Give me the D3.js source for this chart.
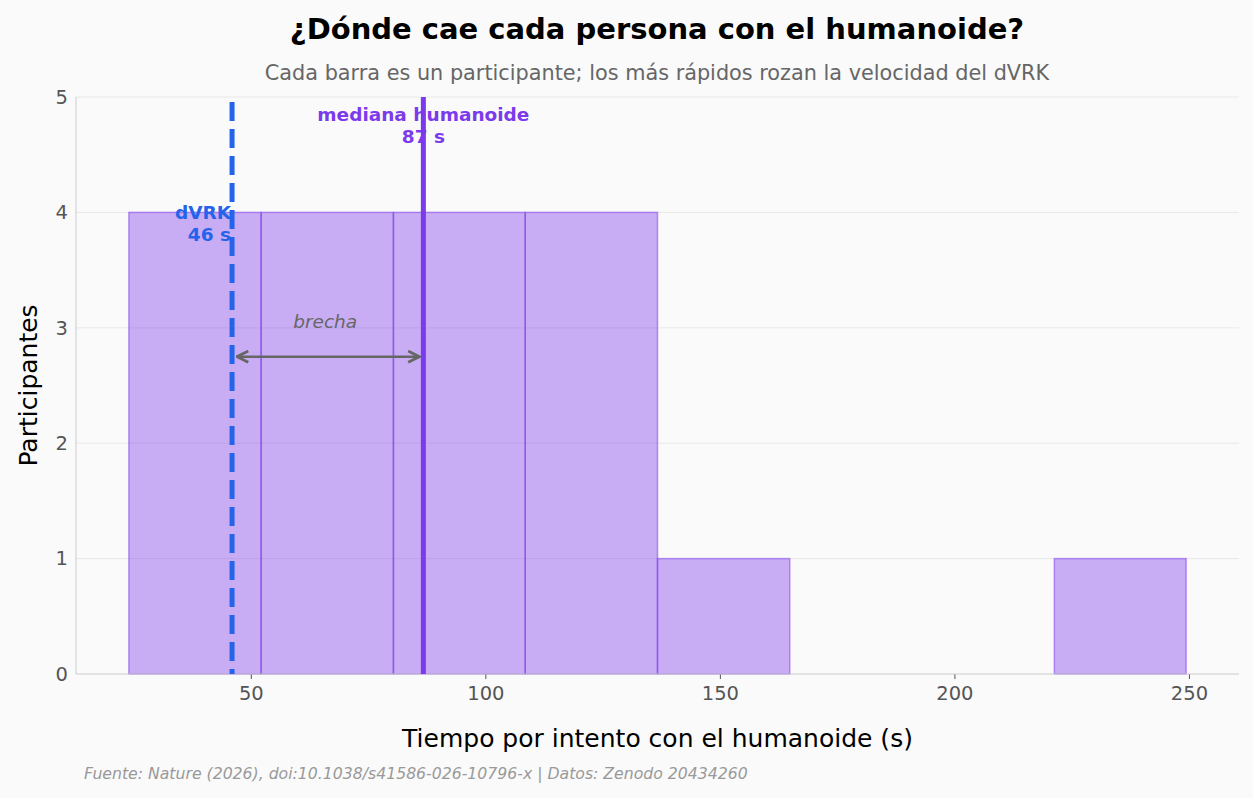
<!DOCTYPE html>
<html>
<head>
<meta charset="utf-8">
<script src="https://cdn.jsdelivr.net/npm/d3@7"></script>
<style>
  body { margin: 0; background: #fafafa; }
  svg { font-family: "DejaVu Sans", sans-serif; }
</style>
</head>
<body>
<svg id="chart" width="1253" height="798"></svg>
<script>
// histogram of time per attempt with the humanoid (one participant per count)
var binEdges = [24.0, 52.2, 80.4, 108.5, 136.7, 164.9, 193.1, 221.3, 249.4];
var binCounts = [4, 4, 4, 4, 1, 0, 0, 1];
var xTicks = [50, 100, 150, 200, 250];
var yTicks = [0, 1, 2, 3, 4, 5];
var dvrkTime = 46;
var medianTime = 87;
var gapArrowY = 2.75;

var svg = d3.select("#chart");
var W = 1253, H = 798;
var m = { left: 76, right: 1239, top: 97, bottom: 674 };

svg.append("rect").attr("width", W).attr("height", H).attr("fill", "#fafafa");

var pad = (binEdges[binEdges.length - 1] - binEdges[0]) * 0.05;
var x = d3.scaleLinear()
	.domain([binEdges[0] - pad, binEdges[binEdges.length - 1] + pad])
	.range([m.left, m.right]);
var y = d3.scaleLinear().domain([0, 5]).range([m.bottom, m.top]);

// grid
svg.append("g").selectAll("line").data(yTicks.slice(1)).enter().append("line")
	.attr("x1", m.left).attr("x2", m.right)
	.attr("y1", function(d) { return y(d); }).attr("y2", function(d) { return y(d); })
	.attr("stroke", "#e8e8e8").attr("stroke-width", 1);

// bars
var bins = binCounts.map(function(c, i) { return { x0: binEdges[i], x1: binEdges[i + 1], n: c }; });
svg.append("g").selectAll("rect").data(bins).enter().append("rect")
	.attr("x", function(d) { return x(d.x0); })
	.attr("y", function(d) { return y(d.n); })
	.attr("width", function(d) { return x(d.x1) - x(d.x0); })
	.attr("height", function(d) { return y(0) - y(d.n); })
	.attr("fill", "rgba(124,58,237,0.4)")
	.attr("stroke", "rgba(124,58,237,0.5)")
	.attr("stroke-width", 1.5);

// axes
var xAxis = d3.axisBottom(x).tickValues(xTicks).tickSize(5).tickPadding(7);
var gx = svg.append("g").attr("transform", "translate(0," + m.bottom + ")").call(xAxis);
gx.select(".domain").remove();
gx.append("line").attr("x1", m.left).attr("x2", m.right).attr("stroke", "#cccccc");
gx.selectAll(".tick line").attr("stroke", "#555");
gx.selectAll(".tick text").attr("fill", "#555").style("font-size", "19.5px").style("font-family", "DejaVu Sans");

var yAxis = d3.axisLeft(y).tickValues(yTicks).tickFormat(d3.format("d")).tickSize(0).tickPadding(8);
var gy = svg.append("g").attr("transform", "translate(" + m.left + ",0)").call(yAxis);
gy.select(".domain").remove();
gy.append("line").attr("y1", m.top).attr("y2", m.bottom).attr("stroke", "#cccccc");
gy.selectAll(".tick text").attr("fill", "#555").style("font-size", "19.5px").style("font-family", "DejaVu Sans");

// median label sits under its line
var md = svg.append("text").attr("text-anchor", "middle")
	.attr("fill", "#7c3aed").style("font-weight", "bold").style("font-size", "18.5px");
md.append("tspan").attr("x", x(medianTime) - 1).attr("y", 121).text("mediana humanoide");
md.append("tspan").attr("x", x(medianTime) - 1).attr("y", 143).text("87 s");

// reference lines
svg.append("line")
	.attr("x1", x(dvrkTime)).attr("x2", x(dvrkTime))
	.attr("y1", m.top + 5).attr("y2", m.bottom)
	.attr("stroke", "#2563eb").attr("stroke-width", 5)
	.attr("stroke-dasharray", "19,8");

svg.append("line")
	.attr("x1", x(medianTime) - 1).attr("x2", x(medianTime) - 1)
	.attr("y1", m.top).attr("y2", m.bottom)
	.attr("stroke", "#7c3aed").attr("stroke-width", 5);

var dv = svg.append("text").attr("text-anchor", "end")
	.attr("fill", "#2563eb")
	.style("font-weight", "bold").style("font-size", "18.5px");
dv.append("tspan").attr("x", x(dvrkTime) - 1).attr("y", y(4) + 7).text("dVRK");
dv.append("tspan").attr("x", x(dvrkTime) - 1).attr("y", y(4) + 29).text("46 s");

// gap arrow
var defs = svg.append("defs");
defs.append("marker").attr("id", "ah").attr("viewBox", "0 0 10 10")
	.attr("refX", 9).attr("refY", 5).attr("markerWidth", 14).attr("markerHeight", 14)
	.attr("markerUnits", "userSpaceOnUse").attr("orient", "auto-start-reverse")
	.append("path").attr("d", "M1,1 L9,5 L1,9").attr("fill", "none")
	.attr("stroke", "#666").attr("stroke-width", 2);

svg.append("line")
	.attr("x1", x(dvrkTime) + 5).attr("x2", x(medianTime) - 5)
	.attr("y1", y(gapArrowY)).attr("y2", y(gapArrowY))
	.attr("stroke", "#666").attr("stroke-width", 2.5)
	.attr("marker-start", "url(#ah)").attr("marker-end", "url(#ah)");

svg.append("text").attr("x", x((dvrkTime + medianTime) / 2) - 3).attr("y", y(3.0))
	.attr("text-anchor", "middle").attr("fill", "#666")
	.style("font-style", "italic").style("font-size", "18.5px").text("brecha");

// titles
svg.append("text").attr("x", 657).attr("y", 39).attr("text-anchor", "middle")
	.style("font-weight", "bold").style("font-size", "29px").attr("fill", "#000")
	.text("¿Dónde cae cada persona con el humanoide?");
svg.append("text").attr("x", 657).attr("y", 80).attr("text-anchor", "middle")
	.style("font-size", "20.8px").attr("fill", "#666")
	.text("Cada barra es un participante; los más rápidos rozan la velocidad del dVRK");

svg.append("text").attr("x", (m.left + m.right) / 2).attr("y", 747).attr("text-anchor", "middle")
	.style("font-size", "25px").attr("fill", "#000")
	.text("Tiempo por intento con el humanoide (s)");
svg.append("text").attr("transform", "translate(37," + (m.top + m.bottom) / 2 + ") rotate(-90)")
	.attr("text-anchor", "middle").style("font-size", "25px").attr("fill", "#000")
	.text("Participantes");

svg.append("text").attr("x", 84).attr("y", 779)
	.style("font-style", "italic").style("font-size", "15.7px").attr("fill", "#999")
	.text("Fuente: Nature (2026), doi:10.1038/s41586-026-10796-x | Datos: Zenodo 20434260");
</script>
</body>
</html>
